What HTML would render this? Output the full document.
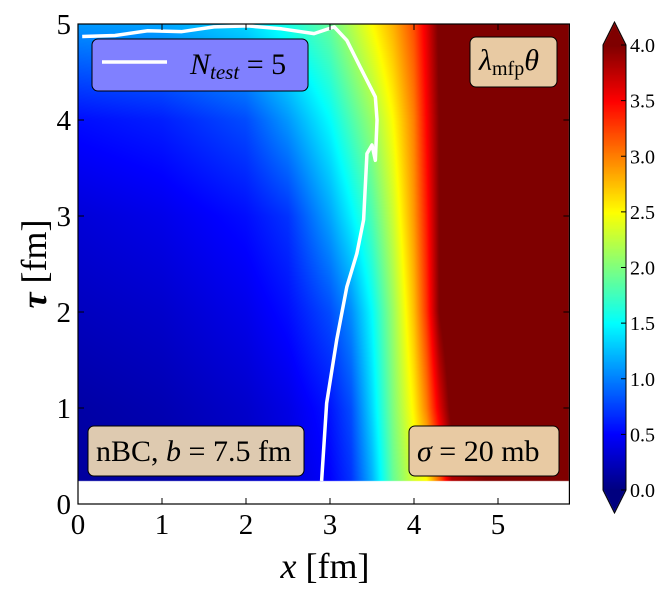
<!DOCTYPE html>
<html><head><meta charset="utf-8"><style>
body{margin:0;background:#fff;width:669px;height:592px;position:relative;overflow:hidden;font-family:"Liberation Serif",serif}
#hm{position:absolute;left:0;top:0}
#ov{position:absolute;left:0;top:0}
</style></head><body>
<canvas id="hm" width="669" height="592"></canvas>
<svg id="ov" width="669" height="592"></svg>
<script>
const tauRows=[0.25,1,2,3,4,5];
const xCols=[0,1,2,2.5,3,3.25,3.5,3.75,4,4.15,4.3,4.45,5.9];
const valRow0=[0.12,0.15,0.25,0.35,0.5,0.7,1.2,1.9,2.35,2.5,3.1,3.8,4.5];
const valRow1=[0.15,0.2,0.3,0.4,0.58,0.8,1.35,2.0,2.55,3.0,3.6,4.1,4.5];
const valRow2=[0.25,0.3,0.42,0.55,0.8,1.05,1.5,2.1,2.75,3.3,4.0,4.3,4.5];
const valRow3=[0.35,0.42,0.55,0.7,1.15,1.45,1.8,2.3,2.9,3.4,4.0,4.3,4.5];
const valRow4=[0.55,0.62,0.8,1.1,1.5,1.8,2.1,2.5,3.0,3.5,4.0,4.3,4.5];
const valRow5=[1.1,1.15,1.35,1.6,1.9,2.2,2.5,2.8,3.2,3.6,4.05,4.3,4.5];
const contourX=[2.90,2.96,3.08,3.20,3.32,3.40,3.44,3.50,3.54,3.56,3.54,3.36,3.20,3.05,2.81,2.42,2.02,1.62,1.23,0.83,0.44,0.05];
const contourT=[0.24,1.05,1.71,2.26,2.61,2.96,3.65,3.74,3.58,4.0,4.24,4.55,4.83,4.97,4.9,4.95,4.98,4.97,4.92,4.93,4.88,4.87];
const xTicks=[0,1,2,3,4,5];
const yTicks=[0,1,2,3,4,5];
const cbTicks=[0,0.5,1,1.5,2,2.5,3,3.5,4];
const rows=[valRow0,valRow1,valRow2,valRow3,valRow4,valRow5];

const X0=78,XS=84,XMAX=5.85,Y0=504,YS=96;
const px=x=>X0+x*XS, py=t=>Y0-t*YS;
function jet(v){let f=Math.max(0,Math.min(1,v/4));
 const r=Math.min(1,Math.max(0,Math.min(4*f-1.5,-4*f+4.5)));
 const g=Math.min(1,Math.max(0,Math.min(4*f-0.5,-4*f+3.5)));
 const b=Math.min(1,Math.max(0,Math.min(4*f+0.5,-4*f+2.5)));
 return [r*255|0,g*255|0,b*255|0];}
function interp(arr,xs,x){if(x<=xs[0])return arr[0];for(let i=1;i<xs.length;i++){if(x<=xs[i]){const u=(x-xs[i-1])/(xs[i]-xs[i-1]);return arr[i-1]+u*(arr[i]-arr[i-1]);}}return arr[arr.length-1];}
function val(x,t){let i=1;while(i<tauRows.length-1&&t>tauRows[i])i++;
 const u=Math.max(0,Math.min(1,(t-tauRows[i-1])/(tauRows[i]-tauRows[i-1])));
 const a=interp(rows[i-1],xCols,x),b=interp(rows[i],xCols,x);return a+u*(b-a);}
const ctx=document.getElementById('hm').getContext('2d');
const xa=Math.round(px(0)),xb=Math.round(px(XMAX)),ya=Math.round(py(5)),yb=Math.round(py(0.24));
const img=ctx.createImageData(xb-xa,yb-ya);
for(let j=0;j<yb-ya;j++){const t=(Y0-(ya+j+0.5))/YS;for(let i=0;i<xb-xa;i++){const x=(xa+i+0.5-X0)/XS;const c=jet(val(x,t));const k=(j*(xb-xa)+i)*4;img.data[k]=c[0];img.data[k+1]=c[1];img.data[k+2]=c[2];img.data[k+3]=255;}}
ctx.putImageData(img,xa,ya);
const cbx=603,cbw=23,cbt=45,cbb=490;
for(let y=cbt;y<cbb;y++){const v=4*(cbb-y)/(cbb-cbt);const c=jet(v);ctx.fillStyle=`rgb(${c})`;ctx.fillRect(cbx,y,cbw,1);}
ctx.fillStyle=`rgb(${jet(4.1)})`;ctx.beginPath();ctx.moveTo(cbx,cbt);ctx.lineTo(cbx+cbw/2,22);ctx.lineTo(cbx+cbw,cbt);ctx.fill();
ctx.fillStyle=`rgb(${jet(-0.1)})`;ctx.beginPath();ctx.moveTo(cbx,cbb);ctx.lineTo(cbx+cbw/2,513);ctx.lineTo(cbx+cbw,cbb);ctx.fill();

const svg=document.getElementById('ov');const NS='http://www.w3.org/2000/svg';
function mk(tag,attrs,parent){const e=document.createElementNS(NS,tag);for(const k in attrs)e.setAttribute(k,attrs[k]);(parent||svg).appendChild(e);return e;}
const cl=mk('polyline',{points:contourX.map((x,i)=>px(x)+','+py(contourT[i])).join(' '),fill:'none',stroke:'#fff','stroke-width':3.5,'stroke-linejoin':'round'});


const fr=mk('rect',{x:X0,y:py(5),width:px(XMAX)-X0,height:Y0-py(5),fill:'none',stroke:'#000','stroke-width':1.2});


xTicks.forEach(v=>{const x=px(v);mk('line',{x1:x,x2:x,y1:Y0,y2:Y0-6,stroke:'#000'});mk('line',{x1:x,x2:x,y1:py(5),y2:py(5)+6,stroke:'#000'});
 const t=mk('text',{x:x,y:Y0+30,'text-anchor':'middle','font-size':29});t.textContent=v;
 
 });
yTicks.forEach(v=>{const y=py(v);mk('line',{x1:X0,x2:X0+6,y1:y,y2:y,stroke:'#000'});mk('line',{x1:px(XMAX),x2:px(XMAX)-6,y1:y,y2:y,stroke:'#000'});
 const t=mk('text',{x:X0-7,y:y+10,'text-anchor':'end','font-size':29});t.textContent=v;
 
 });
const cbf=mk('path',{d:`M${cbx},${cbt} L${cbx+cbw/2},22 L${cbx+cbw},${cbt} L${cbx+cbw},${cbb} L${cbx+cbw/2},513 L${cbx},${cbb} Z`,fill:'none',stroke:'#000','stroke-width':1});


cbTicks.forEach(v=>{const y=cbb-(cbb-cbt)*v/4;mk('line',{x1:cbx+cbw-5,x2:cbx+cbw,y1:y,y2:y,stroke:'#000'});
 const t=mk('text',{x:630,y:y+7,'font-size':20});t.textContent=v.toFixed(1);
 
 });
</script>
<svg width="669" height="592" style="position:absolute;left:0;top:0">
<g>
<rect x="92" y="39" width="216" height="52" rx="6" fill="#8080ff" stroke="#000" stroke-width="1"/>
<line x1="102" y1="62" x2="167" y2="62" stroke="#fff" stroke-width="3.5"/>
<text x="190" y="74" font-size="30" font-style="italic">N<tspan font-size="21" dy="5">test</tspan><tspan dy="-5" font-style="normal"> = 5</tspan></text>
</g>
<g>
<rect x="470" y="37" width="87" height="50" rx="6" fill="#e8caa3" stroke="#000"/>
<text x="479" y="70" font-size="30" font-style="italic">λ<tspan font-size="20" font-style="normal" dy="5">mfp</tspan><tspan dy="-5">θ</tspan></text>
</g>
<g>
<rect x="88" y="426" width="216" height="50" rx="6" fill="#decab0" stroke="#000"/>
<text x="96" y="461" font-size="30">nBC, <tspan font-style="italic">b</tspan> = 7.5 fm</text>
</g>
<g>
<rect x="409" y="426" width="150" height="50" rx="6" fill="#e8caa3" stroke="#000"/>
<text x="417" y="461" font-size="30"><tspan font-style="italic">σ</tspan> = 20 mb</text>
</g>
<text x="325" y="578" font-size="36" text-anchor="middle"><tspan font-style="italic">x</tspan> [fm]</text>
<text transform="translate(46,264) rotate(-90)" font-size="36" text-anchor="middle"><tspan font-style="italic" font-weight="bold">τ</tspan> [fm]</text>
</svg>
</body></html>
